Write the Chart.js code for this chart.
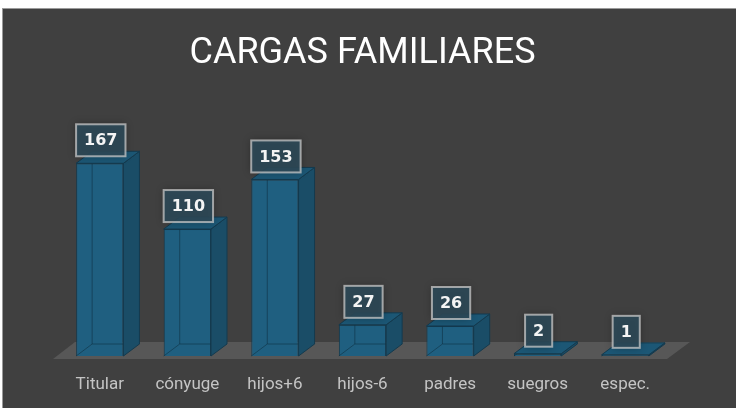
<!DOCTYPE html>
<html>
<head>
<meta charset="utf-8">
<script src="https://cdn.jsdelivr.net/npm/chart.js@4/dist/chart.umd.min.js"></script>
<style>
  body { margin: 0; background: #fff; }
  #chartSpace {
    position: absolute; left: 2px; top: 8px; width: 734px; height: 400px;
    background: #404040; border-left: 1px solid #9a9a9a; border-top: 1px solid #9a9a9a;
  }
  canvas { display: block; }
</style>
</head>
<body>
<div id="chartSpace"><canvas id="c" width="733" height="399"></canvas></div>
<script>
const categories = ['Titular', 'cónyuge', 'hijos+6', 'hijos-6', 'padres', 'suegros', 'espec.'];
const cargas = [167, 110, 153, 27, 26, 2, 1];
const titleText = 'CARGAS FAMILIARES';

const DX = 16, DY = 12;

// floor behind the bars
const floorPlugin = {
  id: 'floor',
  beforeDatasetsDraw(chart) {
    const { ctx, chartArea } = chart;
    const base = chart.scales.y.getPixelForValue(0);
    ctx.save();
    ctx.fillStyle = '#575757';
    ctx.beginPath();
    ctx.moveTo(chartArea.left - 3, base + 3);
    ctx.lineTo(chartArea.right - 2, base + 3);
    ctx.lineTo(chartArea.right + 21, base - 14);
    ctx.lineTo(chartArea.left + 19, base - 14);
    ctx.closePath();
    ctx.fill();
    ctx.restore();
  }
};

// side + top faces, then value boxes
const bar3d = {
  id: 'bar3d',
  afterDatasetsDraw(chart) {
    const { ctx } = chart;
    const meta = chart.getDatasetMeta(0);
    ctx.save();
    ctx.lineWidth = 1;
    meta.data.forEach((bar) => {
      const l = bar.x - bar.width / 2, r = bar.x + bar.width / 2;
      const t = bar.y, b = bar.base;
      // faint hidden edges seen through
      ctx.strokeStyle = 'rgba(15,50,68,0.6)';
      ctx.beginPath();
      ctx.moveTo(l, b); ctx.lineTo(l + DX, b - DY); ctx.lineTo(r + DX, b - DY);
      ctx.moveTo(l + DX, b - DY); ctx.lineTo(l + DX, t - DY);
      ctx.stroke();
      ctx.strokeStyle = '#143a4e';
      // side
      ctx.fillStyle = '#1a4d67';
      ctx.beginPath();
      ctx.moveTo(r, t); ctx.lineTo(r + DX, t - DY); ctx.lineTo(r + DX, b - DY); ctx.lineTo(r, b);
      ctx.closePath(); ctx.fill(); ctx.stroke();
      // top
      ctx.fillStyle = '#1c5775';
      ctx.beginPath();
      ctx.moveTo(l, t); ctx.lineTo(l + DX, t - DY); ctx.lineTo(r + DX, t - DY); ctx.lineTo(r, t);
      ctx.closePath(); ctx.fill(); ctx.stroke();
    });

    ctx.font = 'bold 16px "DejaVu Sans", sans-serif';
    ctx.textAlign = 'center';
    ctx.textBaseline = 'middle';
    meta.data.forEach((bar, i) => {
      const txt = String(cargas[i]);
      const w = Math.max(ctx.measureText(txt).width + 16, 24);
      const h = 32;
      const cx = bar.x + 1;
      const bottom = bar.y - 7;
      ctx.shadowColor = 'rgba(0,0,0,0.35)';
      ctx.shadowBlur = 8;
      ctx.fillStyle = 'rgba(44,72,86,0.9)';
      ctx.fillRect(cx - w / 2, bottom - h, w, h);
      ctx.shadowBlur = 0;
      ctx.shadowColor = 'transparent';
      ctx.strokeStyle = 'rgba(200,200,200,0.75)';
      ctx.lineWidth = 2;
      ctx.strokeRect(cx - w / 2, bottom - h, w, h);
      ctx.fillStyle = '#f4f4f4';
      ctx.fillText(txt, cx, bottom - h / 2 + 1);
    });
    ctx.restore();
  }
};

new Chart(document.getElementById('c'), {
  type: 'bar',
  data: {
    labels: categories,
    datasets: [{
      data: cargas,
      backgroundColor: '#1f5f80',
      borderColor: '#143a4e',
      borderWidth: 1,
      categoryPercentage: 1,
      barPercentage: 0.54
    }]
  },
  options: {
    responsive: false,
    animation: false,
    layout: { padding: { left: 53, right: 67, top: 0, bottom: 0 } },
    plugins: {
      legend: { display: false },
      tooltip: { enabled: false },
      title: {
        display: true,
        text: titleText,
        color: '#ffffff',
        font: { family: 'Roboto', size: 36, weight: '400' },
        padding: { top: 23, bottom: 50 }
      }
    },
    scales: {
      x: {
        grid: { display: false, drawTicks: false },
        border: { display: false },
        afterFit(scale) { scale.height = 52; },
        ticks: {
          color: '#c4c4c4',
          padding: 19,
          maxRotation: 0,
          font: { family: 'Roboto', size: 17 }
        }
      },
      y: {
        display: false,
        min: 0,
        max: 200
      }
    }
  },
  plugins: [floorPlugin, bar3d]
});
</script>
</body>
</html>
